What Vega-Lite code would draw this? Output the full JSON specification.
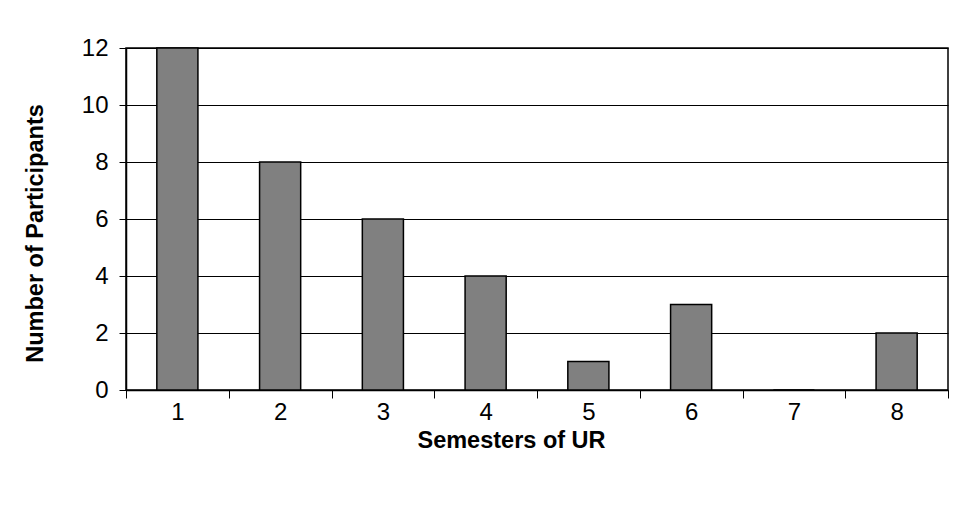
{
  "$schema": "https://vega.github.io/schema/vega-lite/v6.json",
  "autosize": {"type": "none"},
  "width": 822,
  "height": 342,
  "padding": {"left": 126, "top": 48, "right": 17, "bottom": 126},
  "background": "white",
  "data": {"values": [
    {"semester": "1", "count": 12},
    {"semester": "2", "count": 8},
    {"semester": "3", "count": 6},
    {"semester": "4", "count": 4},
    {"semester": "5", "count": 1},
    {"semester": "6", "count": 3},
    {"semester": "7", "count": 0},
    {"semester": "8", "count": 2}
  ]},
  "mark": {"type": "bar", "fill": "#808080", "stroke": "black", "strokeWidth": 1.5, "width": {"band": 0.4}},
  "encoding": {
    "x": {
      "field": "semester", "type": "ordinal", "sort": null,
      "scale": {"paddingInner": 0, "paddingOuter": 0},
      "axis": {
        "title": "Semesters of UR",
        "labelAngle": 0,
        "tickBand": "extent",
        "titleX": 385
      }
    },
    "y": {
      "field": "count", "type": "quantitative",
      "scale": {"domain": [0, 12], "nice": false},
      "axis": {
        "title": "Number of Participants",
        "values": [0, 2, 4, 6, 8, 10, 12],
        "grid": true,
        "tickSize": 7,
        "labelPadding": 11,
        "titlePadding": 34,
        "titleY": 185
      }
    }
  },
  "config": {
    "font": "Liberation Sans",
    "view": {"stroke": "black", "strokeWidth": 1.5},
    "axis": {
      "domainColor": "black",
      "domainWidth": 1.5,
      "tickColor": "black",
      "tickSize": 8,
      "tickWidth": 1,
      "gridColor": "black",
      "gridWidth": 1,
      "gridOpacity": 1,
      "labelFont": "Liberation Sans",
      "labelFontSize": 24,
      "labelColor": "black",
      "labelPadding": 3,
      "titleFont": "Liberation Sans",
      "titleFontSize": 23.5,
      "titleFontWeight": "bold",
      "titleColor": "black"
    },
    "axisX": {"titlePadding": 4, "labelPadding": 2}
  }
}
